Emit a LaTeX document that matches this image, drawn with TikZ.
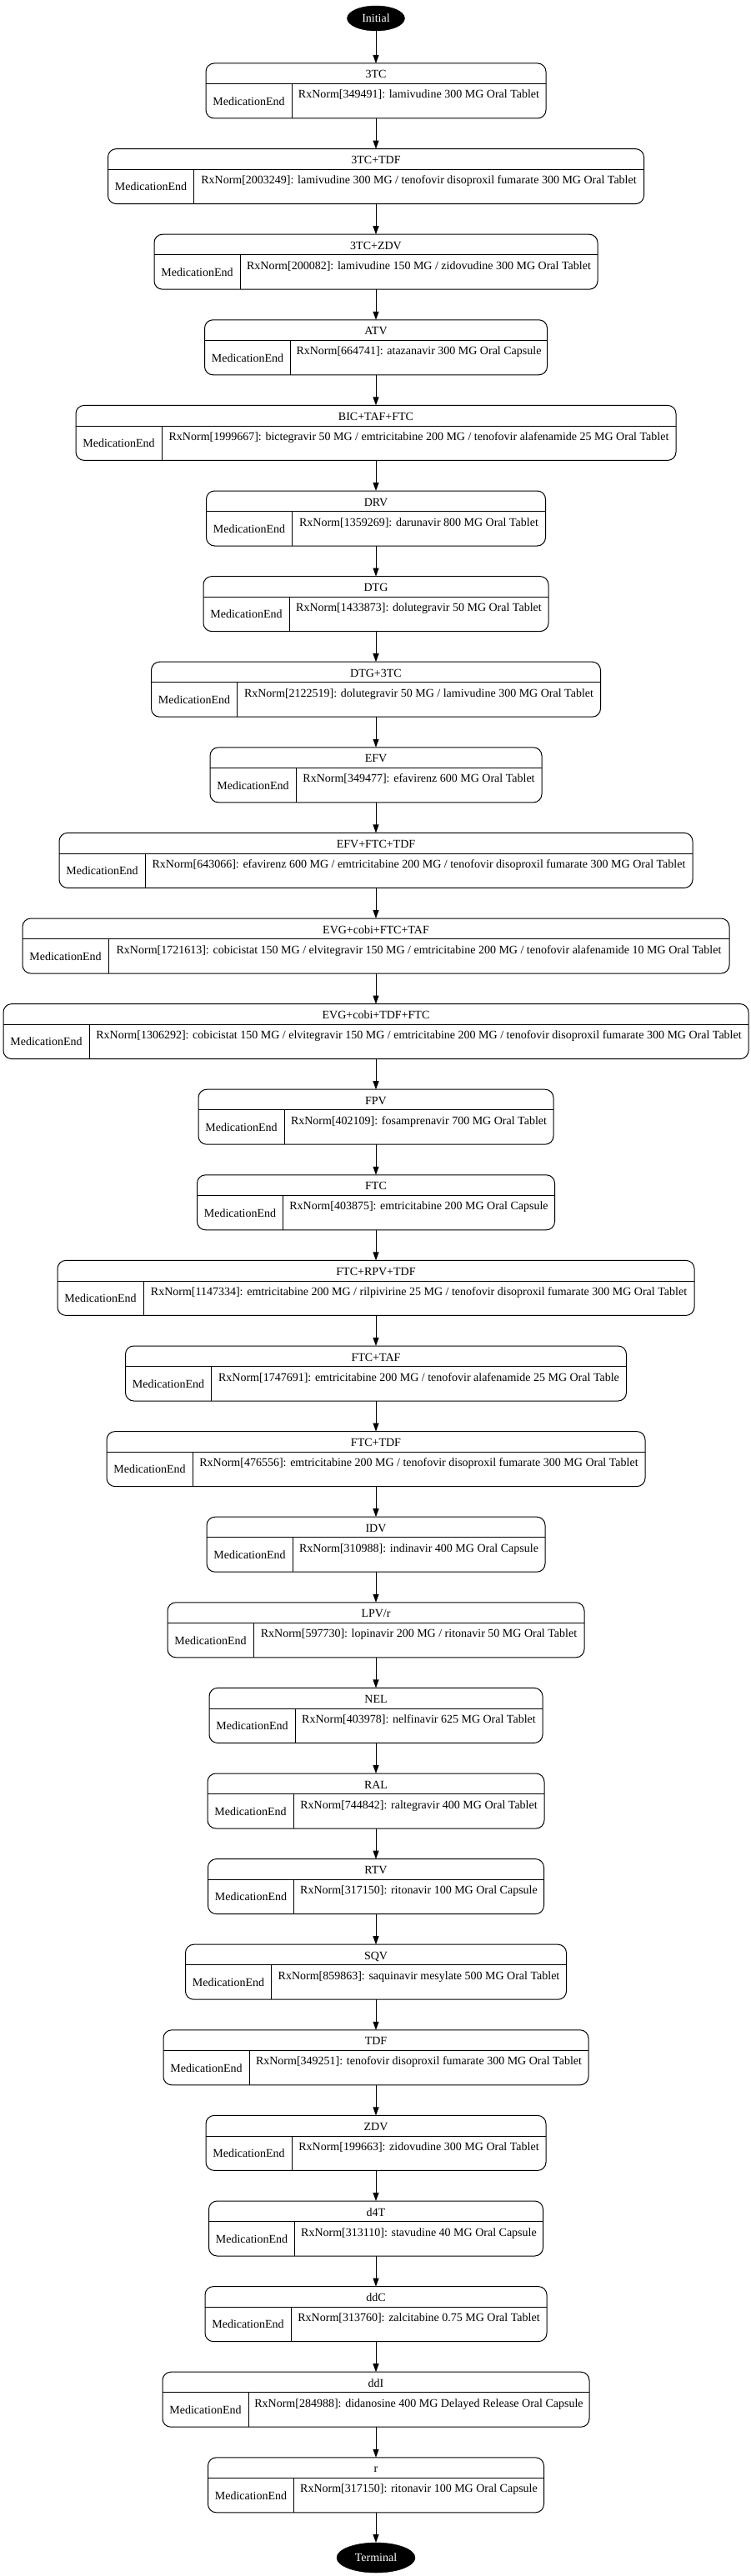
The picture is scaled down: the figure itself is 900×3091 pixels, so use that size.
\documentclass[tikz,border=0pt]{standalone}
\usepackage{fontspec}
\setmainfont{Liberation Serif}
\usetikzlibrary{shapes.geometric,arrows.meta,calc}
\tikzset{
  recbox/.style={draw=black, line width=1pt, rounded corners=10pt, inner sep=0pt, outer sep=0pt},
  sepline/.style={draw=black, line width=1pt},
  lbl/.style={font=\fontsize{14pt}{16.8pt}\selectfont, inner sep=0pt, anchor=base},
  arr/.style={draw=black, line width=1pt, -{Triangle[length=10pt,width=7pt]}},
  termnode/.style={ellipse, fill=black, draw=black, text=white, inner sep=0pt, outer sep=0pt,
    font=\fontsize{14pt}{16.8pt}\selectfont}
}
\newcommand{\medrec}[5]{%
  \pgfmathsetmacro{\rtop}{76+(#2-1)*102.6}%
  \pgfmathsetmacro{\rxl}{451-#3/2}%
  \pgfmathsetmacro{\rxr}{451+#3/2}%
  \pgfmathsetmacro{\rxd}{\rxl+103}%
  \pgfmathsetmacro{\rxm}{(\rxd+\rxr)/2}%
  \node[recbox, minimum width=#3pt, minimum height=66pt] (#1) at (451,\rtop+33) {};
  \draw[sepline] (\rxl,\rtop+24.7) -- (\rxr,\rtop+24.7);
  \draw[sepline] (\rxd,\rtop+24.7) -- (\rxd,\rtop+66);
  \node[lbl] (#1t) at (451,\rtop+18) {#4};
  \node[lbl] (#1l) at (\rxl+51.5,\rtop+50.3) {MedicationEnd};
  \node[lbl] (#1r) at (\rxm,\rtop+42) {#5};
}
\begin{document}
\begin{tikzpicture}[x=1pt,y=-1pt]
\useasboundingbox (0,0) rectangle (900,3091);
\node[termnode, minimum width=69pt, minimum height=30pt] (init) at (451,22) {Initial};
\medrec{n1}{1}{408}{3TC}{RxNorm[349491]: lamivudine 300 MG Oral Tablet}
\medrec{n2}{2}{643}{3TC+TDF}{RxNorm[2003249]: lamivudine 300 MG / tenofovir disoproxil fumarate 300 MG Oral Tablet}
\medrec{n3}{3}{532}{3TC+ZDV}{RxNorm[200082]: lamivudine 150 MG / zidovudine 300 MG Oral Tablet}
\medrec{n4}{4}{411}{ATV}{RxNorm[664741]: atazanavir 300 MG Oral Capsule}
\medrec{n5}{5}{720}{BIC+TAF+FTC}{RxNorm[1999667]: bictegravir 50 MG / emtricitabine 200 MG / tenofovir alafenamide 25 MG Oral Tablet}
\medrec{n6}{6}{407}{DRV}{RxNorm[1359269]: darunavir 800 MG Oral Tablet}
\medrec{n7}{7}{414}{DTG}{RxNorm[1433873]: dolutegravir 50 MG Oral Tablet}
\medrec{n8}{8}{539}{DTG+3TC}{RxNorm[2122519]: dolutegravir 50 MG / lamivudine 300 MG Oral Tablet}
\medrec{n9}{9}{398}{EFV}{RxNorm[349477]: efavirenz 600 MG Oral Tablet}
\medrec{n10}{10}{760}{EFV+FTC+TDF}{RxNorm[643066]: efavirenz 600 MG / emtricitabine 200 MG / tenofovir disoproxil fumarate 300 MG Oral Tablet}
\medrec{n11}{11}{848}{EVG+cobi+FTC+TAF}{RxNorm[1721613]: cobicistat 150 MG / elvitegravir 150 MG / emtricitabine 200 MG / tenofovir alafenamide 10 MG Oral Tablet}
\medrec{n12}{12}{894}{EVG+cobi+TDF+FTC}{RxNorm[1306292]: cobicistat 150 MG / elvitegravir 150 MG / emtricitabine 200 MG / tenofovir disoproxil fumarate 300 MG Oral Tablet}
\medrec{n13}{13}{426}{FPV}{RxNorm[402109]: fosamprenavir 700 MG Oral Tablet}
\medrec{n14}{14}{429}{FTC}{RxNorm[403875]: emtricitabine 200 MG Oral Capsule}
\medrec{n15}{15}{764}{FTC+RPV+TDF}{RxNorm[1147334]: emtricitabine 200 MG / rilpivirine 25 MG / tenofovir disoproxil fumarate 300 MG Oral Tablet}
\medrec{n16}{16}{601}{FTC+TAF}{RxNorm[1747691]: emtricitabine 200 MG / tenofovir alafenamide 25 MG Oral Table}
\medrec{n17}{17}{646}{FTC+TDF}{RxNorm[476556]: emtricitabine 200 MG / tenofovir disoproxil fumarate 300 MG Oral Tablet}
\medrec{n18}{18}{406}{IDV}{RxNorm[310988]: indinavir 400 MG Oral Capsule}
\medrec{n19}{19}{500}{LPV/r}{RxNorm[597730]: lopinavir 200 MG / ritonavir 50 MG Oral Tablet}
\medrec{n20}{20}{400}{NEL}{RxNorm[403978]: nelfinavir 625 MG Oral Tablet}
\medrec{n21}{21}{404}{RAL}{RxNorm[744842]: raltegravir 400 MG Oral Tablet}
\medrec{n22}{22}{403}{RTV}{RxNorm[317150]: ritonavir 100 MG Oral Capsule}
\medrec{n23}{23}{457}{SQV}{RxNorm[859863]: saquinavir mesylate 500 MG Oral Tablet}
\medrec{n24}{24}{510}{TDF}{RxNorm[349251]: tenofovir disoproxil fumarate 300 MG Oral Tablet}
\medrec{n25}{25}{408}{ZDV}{RxNorm[199663]: zidovudine 300 MG Oral Tablet}
\medrec{n26}{26}{401}{d4T}{RxNorm[313110]: stavudine 40 MG Oral Capsule}
\medrec{n27}{27}{410}{ddC}{RxNorm[313760]: zalcitabine 0.75 MG Oral Tablet}
\medrec{n28}{28}{512}{ddI}{RxNorm[284988]: didanosine 400 MG Delayed Release Oral Capsule}
\medrec{n29}{29}{403}{r}{RxNorm[317150]: ritonavir 100 MG Oral Capsule}
\node[termnode, minimum width=94pt, minimum height=36pt] (term) at (451,3069) {Terminal};
\draw[arr] (init) -- (n1);
\foreach \a [evaluate=\a as \b using int(\a+1)] in {1,...,28} {
  \draw[arr] (n\a) -- (n\b);
}
\draw[arr] (n29) -- (term);
\end{tikzpicture}
\end{document}
